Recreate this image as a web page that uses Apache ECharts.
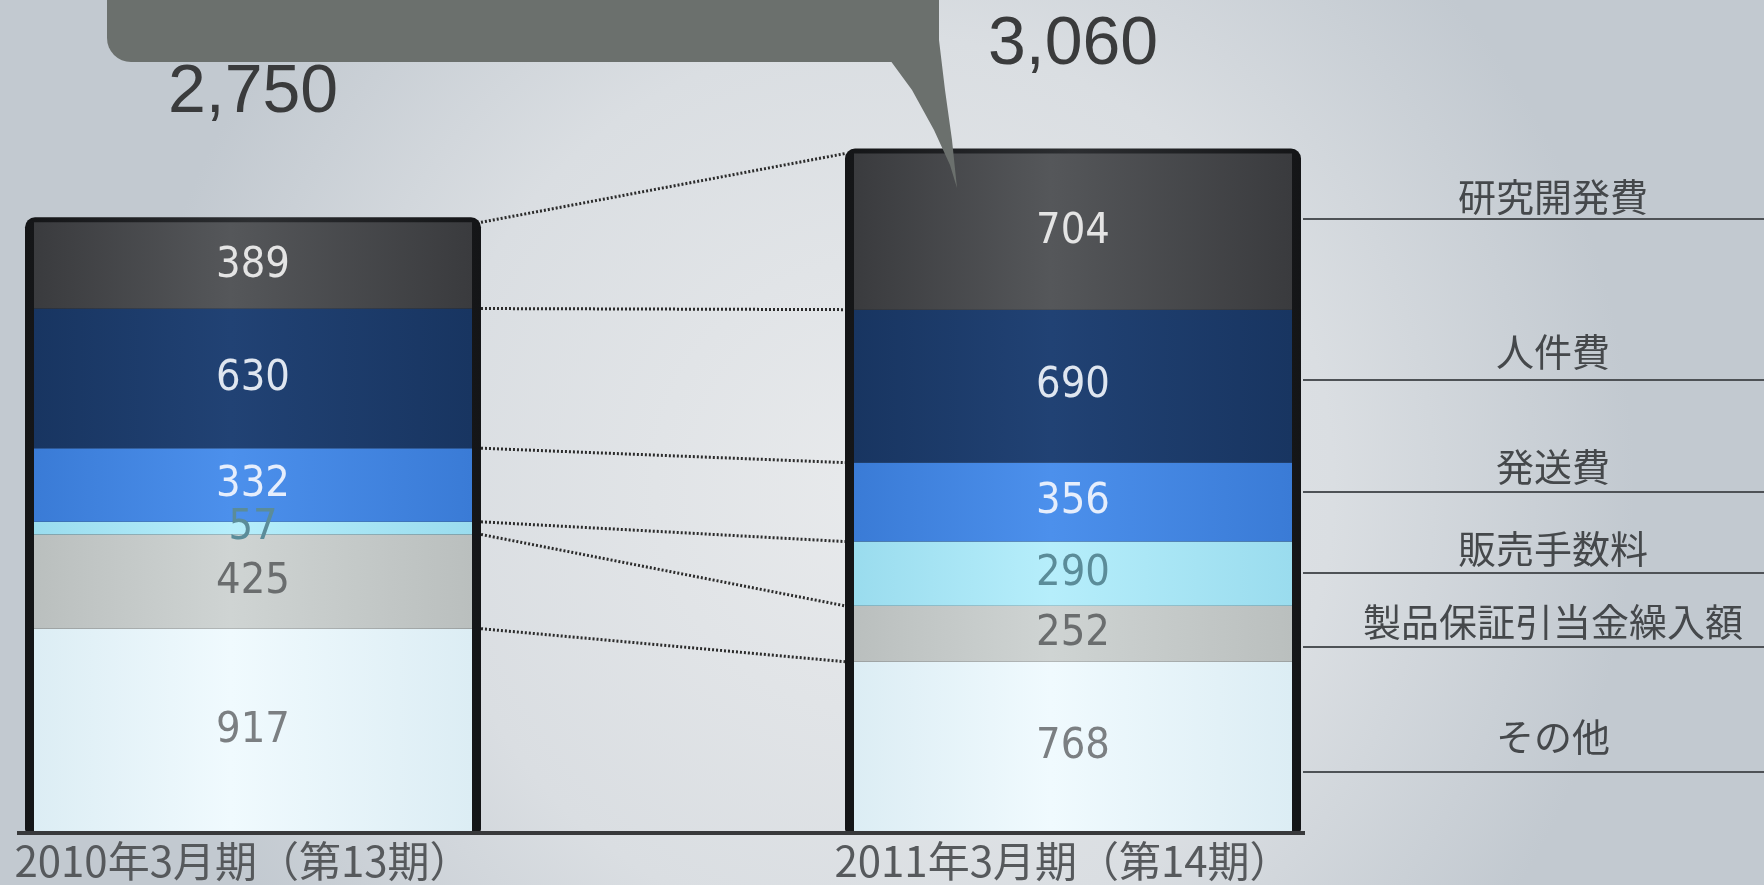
<!DOCTYPE html>
<html><head><meta charset="utf-8">
<script src="https://cdn.jsdelivr.net/npm/echarts@6/dist/echarts.min.js"></script>
<style>html,body{margin:0;padding:0;width:1764px;height:885px;overflow:hidden;}#c{width:1764px;height:885px;}</style>
</head><body><div id="c"></div><script>
// ---- data ----
const categories = ['2010年3月期（第13期）', '2011年3月期（第14期）'];
const seriesNames = ['その他', '製品保証引当金繰入額', '販売手数料', '発送費', '人件費', '研究開発費']; // bottom -> top
const sonota = [917, 768];
const hoshou = [425, 252];
const hanbai = [57, 290];
const hassou = [332, 356];
const jinken = [630, 690];
const kenkyu = [389, 704];
const totals = [2750, 3060];
const totalLabels = ['2,750', '3,060'];
const legendNames = ['研究開発費', '人件費', '発送費', '販売手数料', '製品保証引当金繰入額', 'その他']; // top -> bottom

// ---- layout / style ----
const seriesValues = [sonota, hoshou, hanbai, hassou, jinken, kenkyu];
const segColors = [
  ['#dcedf4', '#f0fafe'],
  ['#babfbe', '#cfd4d3'],
  ['#9adcee', '#b6eefb'],
  ['#3a7bd6', '#4c90ec'],
  ['#183561', '#214274'],
  ['#3a3b3e', '#55575a']
];
const labelColors = ['#7b7f82', '#6a6d6e', '#5b8c99', '#e6eefc', '#dfe6f0', '#e4e4e4'];
const BAR_W = 438, FRAME_W = 456;
const totalLabelOffsets = [129, 108];
const legendLineY = [219, 380, 492, 573, 647, 772];
const legendTextY = [197, 352, 467, 549, 622, 737];

const grad = (c) => ({type: 'linear', x: 0, y: 0, x2: 1, y2: 0,
  colorStops: [{offset: 0, color: c[0]}, {offset: 0.45, color: c[1]}, {offset: 1, color: c[0]}]});

const chart = echarts.init(document.getElementById('c'));

// cumulative boundaries (for connector lines)
const cum = [[0, 0]];
seriesValues.forEach((arr, k) => cum.push([cum[k][0] + arr[0], cum[k][1] + arr[1]]));

const series = [];
// connector dotted lines between bar edges
series.push({
  type: 'custom', z: 1, silent: true,
  data: cum.slice(1).map(c => [0, c[0], c[1]]),
  encode: {x: 0, y: 1},
  renderItem(params, api) {
    const p0 = api.coord([0, api.value(1)]);
    const p1 = api.coord([1, api.value(2)]);
    return {type: 'line', shape: {x1: p0[0] + FRAME_W / 2, y1: p0[1], x2: p1[0] - FRAME_W / 2, y2: p1[1]},
      style: {stroke: '#2b2b2b', lineWidth: 3, lineDash: [2, 2]}};
  }
});
// dark frames + totals
series.push({
  type: 'custom', z: 2, silent: true,
  data: totals.map((t, i) => [i, t]),
  renderItem(params, api) {
    const top = api.coord([api.value(0), api.value(1)]);
    const bot = api.coord([api.value(0), 0]);
    const i = params.dataIndex;
    return {type: 'group', children: [
      {type: 'rect', shape: {x: top[0] - FRAME_W / 2, y: top[1] - 5, width: FRAME_W, height: bot[1] - top[1] + 5, r: [10, 10, 3, 3]},
        style: {fill: {type: 'linear', x: 0, y: 0, x2: 1, y2: 0, colorStops: [
          {offset: 0, color: '#141517'}, {offset: 0.5, color: '#2c2e31'}, {offset: 1, color: '#141517'}]}}},
      {type: 'text', style: {text: totalLabels[i], x: top[0], y: top[1] - totalLabelOffsets[i],
        align: 'center', verticalAlign: 'middle', fill: '#3a3b3c',
        font: '68px "Liberation Sans", Arial, sans-serif'}}
    ]};
  }
});
// stacked segments
seriesValues.forEach((arr, k) => {
  series.push({
    name: seriesNames[k], type: 'bar', stack: 'total', z: 3, barWidth: BAR_W,
    data: arr,
    itemStyle: {color: grad(segColors[k])},
    label: {show: true, position: 'inside', formatter: '{c}', color: labelColors[k],
      fontSize: 43, fontFamily: '"DejaVu Sans Condensed", "Liberation Sans", sans-serif'}
  });
});

const graphics = [];
// baseline
graphics.push({type: 'line', shape: {x1: 17, y1: 833, x2: 1305, y2: 833}, style: {stroke: '#38393b', lineWidth: 4}, z: 5});
// right-side legend
legendNames.forEach((n, i) => {
  graphics.push({type: 'line', shape: {x1: 1303, y1: legendLineY[i], x2: 1764, y2: legendLineY[i]}, style: {stroke: '#4e5256', lineWidth: 2}, z: 5});
  graphics.push({type: 'text', style: {text: n, x: 1553, y: legendTextY[i], align: 'center', verticalAlign: 'middle',
    fill: '#45484b', font: '38px "Noto Sans CJK JP", sans-serif'}, z: 5});
});
// speech bubble
graphics.push({type: 'rect', shape: {x: 107, y: -40, width: 832, height: 102, r: [0, 0, 0, 24]}, style: {fill: '#6b706d'}, z: 10});
graphics.push({type: 'polygon', shape: {points: [[890, 60], [912, 90], [934, 130], [950, 165], [957, 188], [952, 140], [945, 90], [939, 40], [939, 60]]},
  style: {fill: '#6b706d'}, z: 10});

chart.setOption({
  backgroundColor: {type: 'radial', x: 0.5, y: 0.55, r: 0.85,
    colorStops: [{offset: 0, color: '#e8eaec'}, {offset: 0.6, color: '#dadee2'}, {offset: 1, color: '#c2c9d0'}]},
  animation: false,
  grid: {left: 253, right: 1764 - 1073, top: 56, bottom: 53},
  xAxis: {type: 'category', data: categories, boundaryGap: false,
    axisLine: {show: false}, axisTick: {show: false},
    axisLabel: {interval: 0, margin: 8, fontSize: 42, color: '#56595c', padding: [0, 20, 0, 0],
      fontFamily: '"Noto Sans CJK JP", sans-serif'}},
  yAxis: {type: 'value', min: 0, max: 3500, show: false, splitLine: {show: false}},
  series: series,
  graphic: graphics
});
</script></body></html>
